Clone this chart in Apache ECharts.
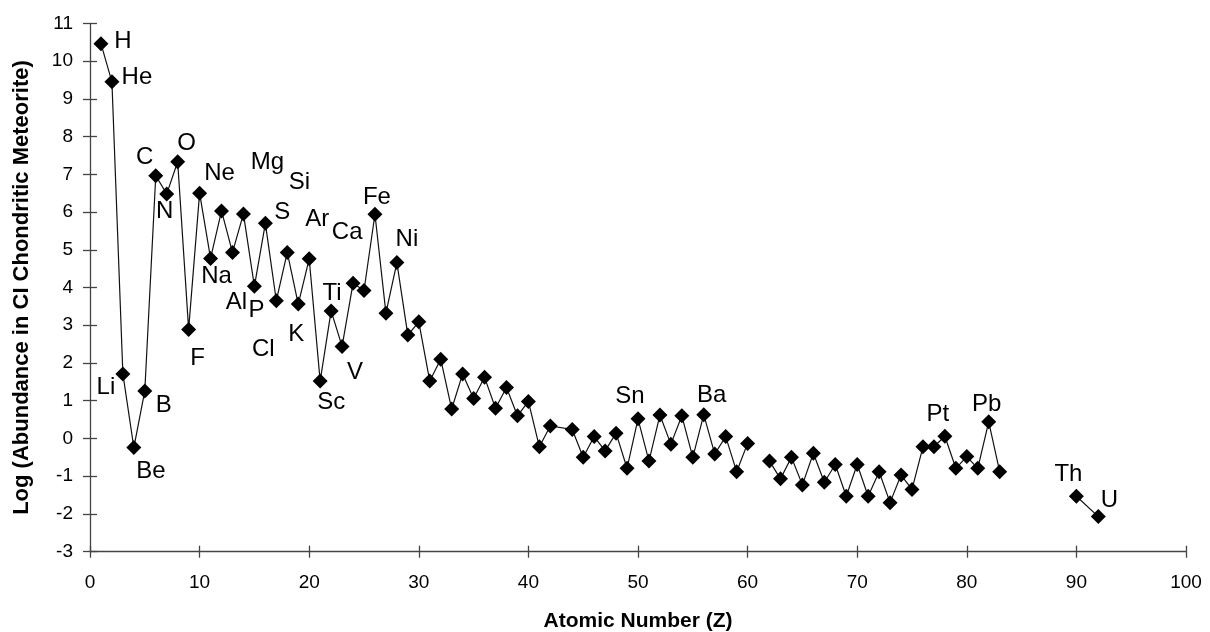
<!DOCTYPE html>
<html>
<head>
<meta charset="utf-8">
<script src="https://cdn.jsdelivr.net/npm/echarts@6/dist/echarts.min.js"></script>
<style>
html,body{margin:0;padding:0;background:#fff;}
#chart{width:1210px;height:632px;}
</style>
</head>
<body>
<div id="chart"></div>
<script>
// Atomic numbers (43 and 91 are absent; 61 and 84 mark line breaks)
var atomicNumbers = [1,2,3,4,5,6,7,8,9,10,11,12,13,14,15,16,17,18,19,20,
  21,22,23,24,25,26,27,28,29,30,31,32,33,34,35,36,37,38,39,40,41,42,44,45,46,47,48,49,50,
  51,52,53,54,55,56,57,58,59,60,61,62,63,64,65,66,67,68,69,70,71,72,73,74,75,76,77,78,79,80,
  81,82,83,84,90,92];
// Log abundance (null = gap in line)
var logAbundance = [10.46,9.45,1.71,-0.24,1.26,6.96,6.48,7.33,2.89,6.5,4.77,6.03,4.93,5.95,4.03,5.7,3.65,4.93,3.56,4.76,
  1.52,3.38,2.44,4.11,3.92,5.94,3.32,4.66,2.74,3.09,1.52,2.1,0.78,1.71,1.06,1.62,0.8,1.35,0.6,0.98,-0.22,0.33,0.24,-0.5,0.05,-0.33,0.14,-0.79,0.52,
  -0.6,0.62,-0.15,0.6,-0.5,0.63,-0.41,0.05,-0.88,-0.13,null,-0.6,-1.07,-0.5,-1.23,-0.39,-1.16,-0.69,-1.53,-0.69,-1.53,-0.88,-1.7,-0.97,-1.35,-0.22,-0.22,0.06,-0.79,-0.48,
  -0.79,0.44,-0.88,null,-1.53,-2.07];
// Element labels shown on the chart
var elementLabels = {1:'H',2:'He',3:'Li',4:'Be',5:'B',6:'C',7:'N',8:'O',9:'F',10:'Ne',11:'Na',12:'Mg',13:'Al',14:'Si',
  15:'P',16:'S',17:'Cl',18:'Ar',19:'K',20:'Ca',21:'Sc',22:'Ti',23:'V',26:'Fe',28:'Ni',50:'Sn',56:'Ba',78:'Pt',82:'Pb',90:'Th',92:'U'};
var xTicks = {min:0, max:100, interval:10};
var yTicks = {min:-3, max:11, interval:1};

// label placement (style only)
var labelOffsets = {1:[22,-2],2:[25,-4],3:[-17,13],4:[17,24],5:[19,14],6:[-11,-18],7:[-2,17],8:[9,-18],9:[9,29],
  10:[20,-20],11:[6,18],12:[46,-49],13:[4,50],14:[56,-32],15:[2,24],16:[17,-11],17:[-13,49],18:[30,-33],19:[-2,30],
  20:[38,-26],21:[11,21],22:[1,-18],23:[13,26],26:[2,-17],28:[10,-23],50:[-8,-22],56:[8,-19],78:[-7,-22],82:[-2,-17],
  90:[-8,-22],92:[11,-16]};

var FONT = "'Liberation Sans', Arial, sans-serif";
var seriesData = atomicNumbers.map(function(z, i){
  var v = logAbundance[i];
  var item = {value: [z, v === null ? '-' : v]};
  if (elementLabels[z]) {
    item.label = {show:true, position:'inside', formatter: elementLabels[z],
      offset: labelOffsets[z], fontSize:24, color:'#000', fontFamily: FONT};
  }
  return item;
});

var chart = echarts.init(document.getElementById('chart'));
var axisColor = '#444';
chart.setOption({
  animation:false,
  backgroundColor:'#fff',
  grid:{left:90, right:24, top:23.3, bottom:80.3, containLabel:false, outerBoundsMode:'none'},
  xAxis:[{
    type:'value', min:xTicks.min, max:xTicks.max, interval:xTicks.interval,
    name:'Atomic Number (Z)', nameLocation:'middle', nameGap:59,
    nameTextStyle:{fontSize:21, fontWeight:'bold', color:'#000', fontFamily:FONT},
    axisLine:{show:true, onZero:false, lineStyle:{color:axisColor, width:1.3}},
    axisTick:{show:true, length:6, lineStyle:{color:axisColor, width:1.3}},
    axisLabel:{fontSize:19, color:'#000', margin:22, fontFamily:FONT},
    splitLine:{show:false}
  },{
    type:'value', position:'bottom', min:xTicks.min, max:xTicks.max, interval:xTicks.interval,
    axisLine:{show:false, onZero:false}, axisLabel:{show:false}, splitLine:{show:false},
    axisTick:{show:true, inside:true, length:6, lineStyle:{color:axisColor, width:1.3}}
  }],
  yAxis:[{
    type:'value', min:yTicks.min, max:yTicks.max, interval:yTicks.interval,
    name:'Log (Abundance in CI Chondritic Meteorite)', nameLocation:'middle', nameGap:57,
    nameTextStyle:{fontSize:22, fontWeight:'bold', color:'#000', fontFamily:FONT},
    axisLine:{show:true, onZero:false, lineStyle:{color:axisColor, width:1.3}},
    axisTick:{show:true, length:7, lineStyle:{color:axisColor, width:1.3}},
    axisLabel:{fontSize:19, color:'#000', margin:17, fontFamily:FONT},
    splitLine:{show:false}
  },{
    type:'value', position:'left', min:yTicks.min, max:yTicks.max, interval:yTicks.interval,
    axisLine:{show:false, onZero:false}, axisLabel:{show:false}, splitLine:{show:false},
    axisTick:{show:true, inside:true, length:7, lineStyle:{color:axisColor, width:1.3}}
  }],
  series:[{
    type:'line', xAxisIndex:0, yAxisIndex:0,
    data: seriesData, connectNulls:false,
    symbol:'diamond', symbolSize:15, showAllSymbol:true,
    itemStyle:{color:'#000'},
    lineStyle:{color:'#111', width:1.2},
    emphasis:{disabled:true},
    z:3
  }]
});
</script>
</body>
</html>
